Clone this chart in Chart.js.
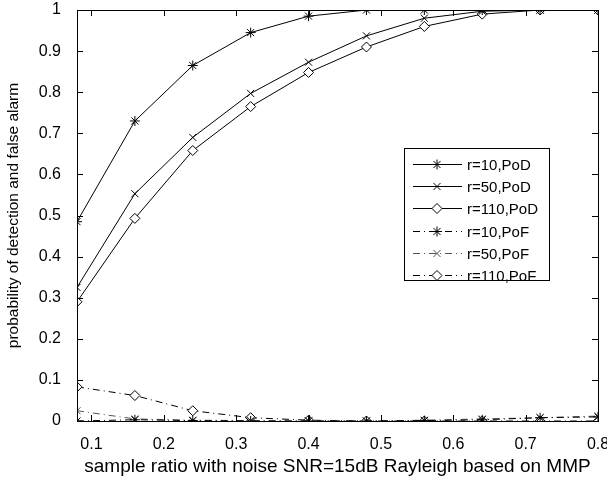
<!DOCTYPE html>
<html>
<head>
<meta charset="utf-8">
<script src="https://cdn.jsdelivr.net/npm/chart.js@4.4.0/dist/chart.umd.min.js"></script>
<style>
  html, body { margin: 0; padding: 0; background: #fff; }
  #wrap { width: 607px; height: 482px; }
</style>
</head>
<body>
<div id="wrap"><canvas id="chart" width="607" height="482"></canvas></div>
<script>
// sample ratio values (x)
const ratios = [0.08, 0.16, 0.24, 0.32, 0.40, 0.48, 0.56, 0.64, 0.72, 0.80];
const xTicks = [0.1, 0.2, 0.3, 0.4, 0.5, 0.6, 0.7, 0.8];

// probability of detection
const pod10  = [0.485, 0.730, 0.865, 0.945, 0.985, 1.000, 1.000, 1.000, 1.000, 1.000];
const pod50  = [0.325, 0.553, 0.690, 0.797, 0.873, 0.937, 0.980, 0.997, 1.000, 1.000];
const pod110 = [0.290, 0.493, 0.658, 0.765, 0.848, 0.910, 0.960, 0.990, 1.000, 1.000];

// probability of false alarm
const pof10  = [0.000, 0.003, 0.001, 0.000, 0.000, 0.000, 0.001, 0.003, 0.008, 0.010];
const pof50  = [0.025, 0.005, 0.002, 0.001, 0.000, 0.000, 0.002, 0.005, 0.008, 0.012];
const pof110 = [0.083, 0.062, 0.025, 0.008, 0.002, 0.000, 0.000, 0.000, 0.000, 0.000];

const FONT = 'Liberation Sans, Arial, sans-serif';
const dashDot = [7, 4, 1, 4];

function pts(ys) {
    return ratios.map((x, i) => ({ x: x, y: ys[i] }));
}

function series(label, ys, style, color, dash) {
    return {
        label: label,
        data: pts(ys),
        borderColor: color,
        borderWidth: 1,
        borderDash: dash,
        pointStyle: style,
        pointRadius: 5,
        pointBorderWidth: 1,
        pointBorderColor: color,
        pointBackgroundColor: '#fff',
        fill: false,
        tension: 0
    };
}

// frame, inward ticks and legend box
const framePlugin = {
    id: 'frame',
    afterDraw(chart) {
        const ctx = chart.ctx;
        const a = chart.chartArea;
        const xs = chart.scales.x, ys = chart.scales.y;
        ctx.save();
        ctx.strokeStyle = '#000';
        ctx.lineWidth = 1;
        ctx.setLineDash([]);
        ctx.strokeRect(a.left + 0.5, a.top + 0.5, a.right - a.left, a.bottom - a.top);
        ctx.beginPath();
        xTicks.forEach(v => {
            const px = Math.round(xs.getPixelForValue(v)) + 0.5;
            ctx.moveTo(px, a.bottom); ctx.lineTo(px, a.bottom - 6);
            ctx.moveTo(px, a.top); ctx.lineTo(px, a.top + 6);
        });
        for (let v = 0; v <= 1.0001; v += 0.1) {
            const py = Math.round(ys.getPixelForValue(v)) + 0.5;
            ctx.moveTo(a.left, py); ctx.lineTo(a.left + 6, py);
            ctx.moveTo(a.right, py); ctx.lineTo(a.right - 6, py);
        }
        ctx.stroke();

        // legend
        const lx = 404, ly = 148, lw = 145, lh = 132;
        ctx.fillStyle = '#fff';
        ctx.fillRect(lx, ly, lw, lh);
        ctx.strokeRect(lx + 0.5, ly + 0.5, lw, lh);
        ctx.font = '15px ' + FONT;
        ctx.textBaseline = 'middle';
        chart.data.datasets.forEach((ds, i) => {
            const cy = Math.round(ly + 16 + i * 22.2) + 0.5;
            ctx.strokeStyle = ds.borderColor;
            ctx.setLineDash(ds.borderDash || []);
            ctx.beginPath();
            ctx.moveTo(413, cy);
            ctx.lineTo(462, cy);
            ctx.stroke();
            ctx.setLineDash([]);
            ctx.fillStyle = '#fff';
            Chart.helpers.drawPoint(ctx, {
                pointStyle: ds.pointStyle, radius: 5, borderWidth: 1
            }, 437, cy);
            ctx.fillStyle = '#000';
            ctx.fillText(ds.label, 467, cy + 1);
        });
        ctx.restore();
    }
};

Chart.defaults.font.family = FONT;
Chart.defaults.color = '#000';

new Chart(document.getElementById('chart'), {
    type: 'line',
    data: {
        datasets: [
            series('r=10,PoD', pod10, 'star', '#000', []),
            series('r=50,PoD', pod50, 'crossRot', '#000', []),
            series('r=110,PoD', pod110, 'rectRot', '#000', []),
            series('r=10,PoF', pof10, 'star', '#000', dashDot),
            series('r=50,PoF', pof50, 'crossRot', '#555', dashDot),
            series('r=110,PoF', pof110, 'rectRot', '#000', dashDot)
        ]
    },
    options: {
        responsive: false,
        animation: false,
        layout: { padding: { top: 10, right: 9, left: 0, bottom: 0 } },
        plugins: { legend: { display: false }, tooltip: { enabled: false } },
        scales: {
            x: {
                type: 'linear',
                min: 0.08,
                max: 0.8,
                afterBuildTicks: s => { s.ticks = xTicks.map(v => ({ value: v })); },
                afterFit: s => { s.height = 61; s.paddingLeft = 0; s.paddingRight = 0; },
                grid: { display: false },
                border: { display: false },
                ticks: { font: { size: 16 }, padding: 6, maxRotation: 0,
                    callback: v => v.toFixed(1) },
                title: { display: true, text: 'sample ratio with noise SNR=15dB Rayleigh based on MMP',
                    font: { size: 19 }, padding: { top: 1 } }
            },
            y: {
                min: 0,
                max: 1,
                afterFit: s => { s.width = 77; s.paddingTop = 0; s.paddingBottom = 0; },
                grid: { display: false },
                border: { display: false },
                ticks: { stepSize: 0.1, font: { size: 16 }, padding: 8,
                    callback: v => (v === 0 ? '0' : v === 1 ? '1' : v.toFixed(1)) },
                title: { display: true, text: 'probability of detection and false alarm',
                    font: { size: 15.5 }, padding: { bottom: 3 } }
            }
        }
    },
    plugins: [framePlugin]
});
</script>
</body>
</html>
